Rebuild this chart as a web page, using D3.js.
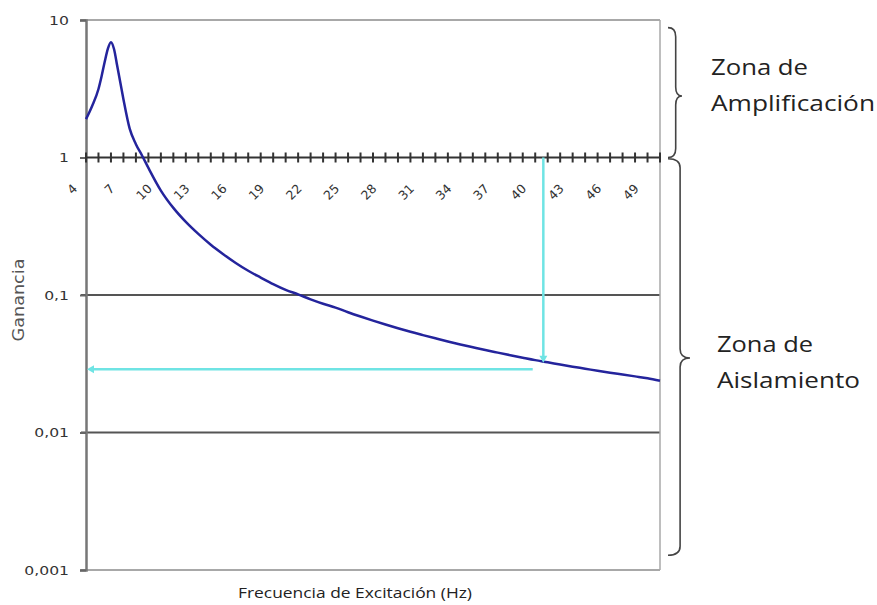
<!DOCTYPE html>
<html><head><meta charset="utf-8">
<script src="https://cdn.jsdelivr.net/npm/d3@7"></script>
<style>
html,body{margin:0;padding:0;background:#fff;}
svg{display:block;}
</style></head>
<body>
<svg id="chart" width="877" height="605"></svg>
<script>
// ---- data ----
const freq = [4,4.5,5,5.25,5.5,5.75,6,6.25,6.5,6.75,7,7.5,8,8.5,9,10,11,12,13,14,15,16,17,18,19,20,21,22,23,24,25,26,27,28,29,30,31,32,33,34,35,36,37,38,39,40,41,42,43,44,45,46,47,48,49,50];
const gain = [1.90,2.38,3.15,3.9,4.97,6.17,6.9,6.13,4.64,3.51,2.65,1.62,1.25,1.03,0.84,0.575,0.43,0.34,0.278,0.232,0.198,0.171,0.150,0.134,0.120,0.109,0.101,0.093,0.0864,0.081,0.0749,0.0697,0.0651,0.0610,0.0573,0.0540,0.0511,0.0484,0.0459,0.0437,0.0417,0.0398,0.0381,0.0365,0.0350,0.0336,0.0324,0.0312,0.0301,0.0291,0.0281,0.0272,0.0264,0.0256,0.0248,0.0238];
const xTickValues = d3.range(4, 51);           // one tick per Hz
const xLabelValues = [4,7,10,13,16,19,22,25,28,31,34,37,40,43,46,49];
const yTickValues = [10,1,0.1,0.01,0.001];
const yTickLabels = ["10","1","0,1","0,01","0,001"];
const markerFreq = 40.65;      // cyan vertical line
const markerGainEnd = 0.0327;  // where vertical arrow meets curve
const markerGainH = 0.0288;    // cyan horizontal arrow level
const markerHStart = 39.8;
const zones = [
  {lines:["Zona de","Amplificación"], from:8.8, to:1.0, tip:2.8},
  {lines:["Zona de","Aislamiento"], from:0.98, to:0.00128, tip:0.0348}
];
const xTitle = "Frecuencia de Excitación (Hz)";
const yTitle = "Ganancia";

// ---- scales ----
const L = 86, R = 660, T = 20, B = 570;
const x = d3.scaleLinear().domain([4,50]).range([L,R]);
const y = d3.scaleLog().domain([0.001,10]).range([B,T]);

const svg = d3.select("#chart");
const STRETCH = 1.2;
function stretch(sel){
  sel.each(function(){
    const w = this.getComputedTextLength();
    this.setAttribute("textLength", (w*STRETCH).toFixed(1));
    this.setAttribute("lengthAdjust","spacingAndGlyphs");
  });
}

// gridlines
const gridColor = {10:"#a8a8a8", 0.1:"#555", 0.01:"#555", 0.001:"#a8a8a8"};
svg.append("g").selectAll("line").data([10,0.1,0.01,0.001]).join("line")
  .attr("x1", L-5).attr("x2", R)
  .attr("y1", d=>y(d)).attr("y2", d=>y(d))
  .attr("stroke", d=>gridColor[d]).attr("stroke-width", 2);
// right border
svg.append("line").attr("x1",R).attr("x2",R).attr("y1",y(10)).attr("y2",y(0.001))
  .attr("stroke","#a8a8a8").attr("stroke-width",1.5);

// y axis
const yAxis = d3.axisLeft(y).tickValues(yTickValues).tickSize(6)
  .tickFormat((d,i)=>yTickLabels[i]);
const gy = svg.append("g").attr("transform",`translate(${L},0)`).call(yAxis);
gy.select(".domain").attr("stroke","#777").attr("stroke-width",2.5);
gy.selectAll(".tick line").attr("stroke","#666").attr("stroke-width",2);
gy.selectAll(".tick text").attr("x",-17).attr("font-family","DejaVu Sans")
  .attr("font-size",13).attr("fill","#333").call(stretch);

// x axis at gain = 1
const gx = svg.append("g").attr("transform",`translate(0,${y(1)})`);
gx.append("line").attr("x1",L).attr("x2",R).attr("stroke","#333").attr("stroke-width",2);
gx.selectAll("line.tk").data(xTickValues).join("line").attr("class","tk")
  .attr("x1",d=>x(d)).attr("x2",d=>x(d)).attr("y1",-5).attr("y2",5)
  .attr("stroke","#333").attr("stroke-width",2);
gx.selectAll("text").data(xLabelValues).join("text")
  .attr("transform",d=>`translate(${x(d)-8},${32}) rotate(-45)`)
  .attr("text-anchor","end")
  .attr("font-family","DejaVu Sans").attr("font-size",12.5).attr("fill","#333")
  .text(d=>d);

// curve
const pts = freq.map((f,i)=>[f,gain[i]]);
svg.append("path").datum(pts)
  .attr("d", d3.line().x(d=>x(d[0])).y(d=>y(d[1])).curve(d3.curveMonotoneX))
  .attr("fill","none").attr("stroke","#24249c").attr("stroke-width",2.5);

// cyan marker arrows
const cyan = "#6fe4e4";
svg.append("line").attr("x1",x(markerFreq)).attr("x2",x(markerFreq))
  .attr("y1",y(1)).attr("y2",y(markerGainEnd)-4)
  .attr("stroke",cyan).attr("stroke-width",2.5);
svg.append("path")
  .attr("d",`M${x(markerFreq)-4},${y(markerGainEnd)-6} L${x(markerFreq)+4},${y(markerGainEnd)-6} L${x(markerFreq)},${y(markerGainEnd)+1} Z`)
  .attr("fill",cyan);
svg.append("line").attr("x1",x(markerHStart)).attr("x2",x(4)+6)
  .attr("y1",y(markerGainH)).attr("y2",y(markerGainH))
  .attr("stroke",cyan).attr("stroke-width",2.5);
svg.append("path")
  .attr("d",`M${x(4)+8},${y(markerGainH)-4} L${x(4)+8},${y(markerGainH)+4} L${x(4)+1},${y(markerGainH)} Z`)
  .attr("fill",cyan);

// axis titles
svg.append("text").attr("transform",`translate(24,300) rotate(-90)`)
  .attr("text-anchor","middle").attr("font-family","DejaVu Sans")
  .attr("font-size",15).attr("fill","#555").attr("textLength",83)
  .attr("lengthAdjust","spacingAndGlyphs").text(yTitle);
svg.append("text").attr("x",238).attr("y",598)
  .attr("font-family","Open Sans").attr("font-size",15).attr("fill","#222")
  .attr("textLength",234).attr("lengthAdjust","spacingAndGlyphs").text(xTitle);

// braces and zone labels
function bracePath(x0, y0, y1, w, ym){
  const xb = x0 + w*0.55, xt = x0 + w, r = 9;
  return `M${x0},${y0} Q${xb},${y0} ${xb},${y0+r} L${xb},${ym-r} Q${xb},${ym} ${xt},${ym} `+
         `Q${xb},${ym} ${xb},${ym+r} L${xb},${y1-r} Q${xb},${y1} ${x0},${y1}`;
}
const braceW = [14, 22];
const labelX = [711, 717];
const labelDy = [-21, -6];
const labelW = [[97,164],[96,143]];
zones.forEach((z,i)=>{
  const ym = y(z.tip);
  svg.append("path").attr("d", bracePath(668, y(z.from), y(z.to), braceW[i], ym))
    .attr("fill","none").attr("stroke","#444").attr("stroke-width",1.6);
  z.lines.forEach((t,j)=>{
    svg.append("text").attr("x",labelX[i]).attr("y", ym + labelDy[i] + j*36)
      .attr("font-family","Open Sans").attr("font-size",21).attr("fill","#222")
      .attr("textLength",labelW[i][j]).attr("lengthAdjust","spacingAndGlyphs").text(t);
  });
});
</script>
</body></html>
